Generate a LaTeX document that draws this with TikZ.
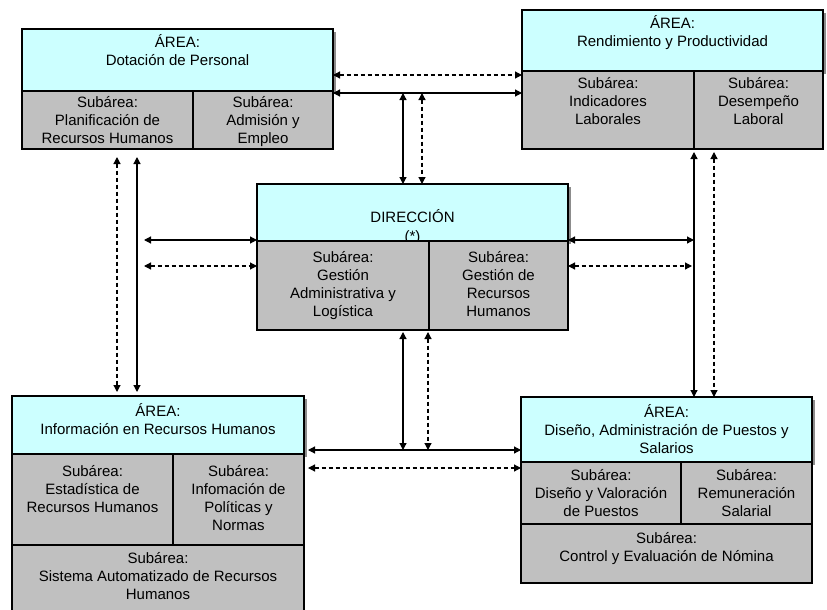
\documentclass[tikz,border=0pt]{standalone}
\usepackage{fontspec}
\setmainfont{Liberation Sans}
\usetikzlibrary{arrows.meta,shadows}
\definecolor{hdrfill}{HTML}{CCFFFF}
\definecolor{subfill}{HTML}{C0C0C0}
\definecolor{shadowgray}{HTML}{8C8C8C}
\begin{document}
\begin{tikzpicture}[x=1pt,y=-1pt,
  box/.style={draw=black, line width=1.1pt, inner sep=0pt, outer sep=0pt, anchor=north west},
  hdr/.style={box, fill=hdrfill, drop shadow={shadow xshift=3pt, shadow yshift=-3pt, fill=shadowgray, opacity=1}},
  sub/.style={box, fill=subfill},
  txt/.style={inner sep=0pt, align=center, anchor=north, font=\fontsize{15}{18}\selectfont},
  link/.style={line width=1.2pt, {Triangle[length=7pt,width=7pt]}-{Triangle[length=7pt,width=7pt]}},
  dlink/.style={link, dash pattern=on 4pt off 3pt}]
\useasboundingbox (0,0) rectangle (827,610);
\newcommand\fl{\rule{0pt}{14pt}}
% ---------- Box 1: Dotacion de Personal
\node[hdr, minimum width=311pt, minimum height=62pt] (b1h) at (22,29) {};
\node[txt, yshift=-4pt] (t1h) at (b1h.north) {\fl ÁREA:\\Dotación de Personal};
\node[sub, minimum width=171pt, minimum height=58pt] (b1s1) at (22,91) {};
\node[sub, minimum width=140pt, minimum height=58pt] (b1s2) at (193,91) {};
\node[txt, yshift=-2.5pt] (t1s1) at (b1s1.north) {\fl Subárea:\\Planificación de\\Recursos Humanos};
\node[txt, yshift=-2.5pt] (t1s2) at (b1s2.north) {\fl Subárea:\\Admisión y\\Empleo};
% ---------- Box 2: Rendimiento y Productividad
\node[hdr, minimum width=301pt, minimum height=61pt] (b2h) at (522,10) {};
\node[txt, yshift=-4pt] (t2h) at (b2h.north) {\fl ÁREA:\\Rendimiento y Productividad};
\node[sub, minimum width=172pt, minimum height=78pt] (b2s1) at (522,71) {};
\node[sub, minimum width=129pt, minimum height=78pt] (b2s2) at (694,71) {};
\node[txt, yshift=-3pt] (t2s1) at (b2s1.north) {\fl Subárea:\\Indicadores\\Laborales};
\node[txt, yshift=-3pt] (t2s2) at (b2s2.north) {\fl Subárea:\\Desempeño\\Laboral};
% ---------- Box 3: Direccion
\node[hdr, minimum width=311pt, minimum height=57pt] (b3h) at (257,184) {};
\node[txt, yshift=-24pt] (t3h) at (b3h.north) {\fl DIRECCIÓN\\[1pt](*)};
\node[sub, minimum width=172pt, minimum height=89pt] (b3s1) at (257,241) {};
\node[sub, minimum width=139pt, minimum height=89pt] (b3s2) at (429,241) {};
\node[txt, yshift=-7pt] (t3s1) at (b3s1.north) {\fl Subárea:\\Gestión\\Administrativa y\\Logística};
\node[txt, yshift=-7pt] (t3s2) at (b3s2.north) {\fl Subárea:\\Gestión de\\Recursos\\Humanos};
% ---------- Box 4: Informacion en Recursos Humanos
\node[hdr, minimum width=292pt, minimum height=58pt] (b4h) at (12,396) {};
\node[txt, yshift=-6.7pt] (t4h) at (b4h.north) {\fl ÁREA:\\Información en Recursos Humanos};
\node[sub, minimum width=161pt, minimum height=91pt] (b4s1) at (12,454) {};
\node[sub, minimum width=131pt, minimum height=91pt] (b4s2) at (173,454) {};
\node[sub, minimum width=292pt, minimum height=67pt] (b4s3) at (12,545) {};
\node[txt, yshift=-8.7pt] (t4s1) at (b4s1.north) {\fl Subárea:\\Estadística de\\Recursos Humanos};
\node[txt, yshift=-8.7pt] (t4s2) at (b4s2.north) {\fl Subárea:\\Infomación de\\Políticas y\\Normas};
\node[txt, yshift=-4pt] (t4s3) at (b4s3.north) {\fl Subárea:\\Sistema Automatizado de Recursos\\Humanos};
% ---------- Box 5: Diseno, Administracion de Puestos y Salarios
\node[hdr, minimum width=291pt, minimum height=65pt] (b5h) at (521,397) {};
\node[txt, yshift=-6pt] (t5h) at (b5h.north) {\fl ÁREA:\\Diseño, Administración de Puestos y\\Salarios};
\node[sub, minimum width=160pt, minimum height=62pt] (b5s1) at (521,462) {};
\node[sub, minimum width=131pt, minimum height=62pt] (b5s2) at (681,462) {};
\node[sub, minimum width=291pt, minimum height=59pt] (b5s3) at (521,524) {};
\node[txt, yshift=-4pt] (t5s1) at (b5s1.north) {\fl Subárea:\\Diseño y Valoración\\de Puestos};
\node[txt, yshift=-4pt] (t5s2) at (b5s2.north) {\fl Subárea:\\Remuneración\\Salarial};
\node[txt, yshift=-5pt] (t5s3) at (b5s3.north) {\fl Subárea:\\Control y Evaluación de Nómina};
% ---------- guide coordinates
\coordinate (yA) at (0,75);
\coordinate (yB) at (0,93);
\coordinate (yC) at (0,450);
\coordinate (yE) at (0,468);
\coordinate (xA) at (403,0);
\coordinate (xB) at (422,0);
\coordinate (xD) at (428,0);
\coordinate (xL1) at (117,0);
\coordinate (xL2) at (137,0);
\coordinate (xR1) at (694,0);
\coordinate (xR2) at (714,0);
\coordinate (lA) at (144,240);
\coordinate (lB) at (144,266);
% ---------- connectors
\draw[dlink] (b1h.east |- yA) -- (b2s1.west |- yA);
\draw[link] (b1s2.east |- yB) -- (b2s1.west |- yB);
\draw[link] (xA |- yB) -- (xA |- b3h.north);
\draw[dlink] (xB |- yB) -- (xB |- b3h.north);
\draw[dlink, shorten <=8pt, shorten >=4pt] (xL1 |- b1s1.south) -- (xL1 |- b4h.north);
\draw[link, shorten <=8pt, shorten >=4pt] (xL2 |- b1s1.south) -- (xL2 |- b4h.north);
\draw[link] (lA) -- (lA -| b3h.west);
\draw[dlink] (lB) -- (lB -| b3s1.west);
\draw[link] (b3h.east |- lA) -- (xR1 |- lA);
\draw[dlink, shorten >=2pt] (b3s2.east |- lB) -- (xR1 |- lB);
\draw[link, shorten <=3pt] (xR1 |- b2s1.south) -- (xR1 |- b5h.north);
\draw[dlink, shorten <=3pt] (xR2 |- b2s2.south) -- (xR2 |- b5h.north);
\draw[link, shorten <=2pt] (xA |- b3s1.south) -- (xA |- yC);
\draw[dlink, shorten <=2pt] (xD |- b3s2.south) -- (xD |- yC);
\draw[link, shorten <=4pt] (b4h.east |- yC) -- (b5h.west |- yC);
\draw[dlink, shorten <=4pt] (b4s2.east |- yE) -- (b5s1.west |- yE);
\end{tikzpicture}
\end{document}
